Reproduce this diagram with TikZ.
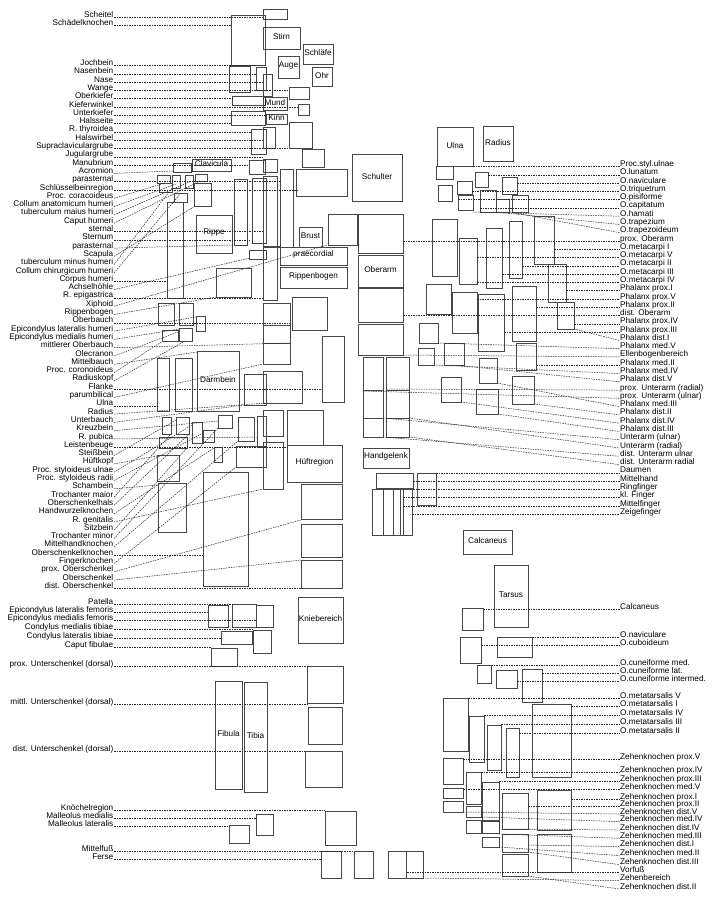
\documentclass[tikz,border=0pt]{standalone}
\usepackage{fontspec}
\setmainfont{Liberation Sans}
\tikzset{
  box/.style={draw=black!72, line width=0.75pt},
  lead/.style={draw=black!85, line width=0.5pt, dash pattern=on 1.5pt off 1pt},
  lab/.style={font=\fontsize{8.2}{9}\selectfont, inner sep=0.5pt, text=black},
  btxt/.style={font=\fontsize{8.2}{9}\selectfont, inner sep=0pt, text=black, yshift=1.2pt}
}
\newcommand{\Bx}[4]{\draw[box] (#1,#2) rectangle (#3,#4);}
\newcommand{\BxT}[6]{\draw[box] (#1,#2) rectangle (#3,#4); \node[btxt] (#6) at ({(#1+#3)/2},{(#2+#4)/2}) {#5};}
\newcommand{\LLab}[5]{\node[lab,anchor=base east] (#1) at (114,#2) {#3}; \coordinate (#1e) at (#4,#5); \draw[lead] (#1.base east) -- (#1e);}
\newcommand{\RLab}[5]{\node[lab,anchor=base west] (#1) at (619.5,#2) {#3}; \coordinate (#1s) at (#4,#5); \draw[lead] (#1s) -- (#1.base west);}
\begin{document}
\begin{tikzpicture}[x=1pt,y=-1pt]
\useasboundingbox (0,0) rectangle (713,900);
\fill[white] (0,0) rectangle (713,900);
% ---------- head ----------
\Bx{263}{9}{287}{19}
\Bx{231}{15}{265}{65}
\BxT{263}{27}{300}{49}{Stirn}{stirn}
\BxT{303}{44}{333}{64}{Schläfe}{schlaefe}
\BxT{278}{56}{299}{78}{Auge}{auge}
\BxT{312}{67}{332}{86}{Ohr}{ohr}
\Bx{229}{66}{250}{92}
\Bx{256}{67}{266}{90}
\Bx{263}{74}{272}{96}
\Bx{289}{87}{309}{99}
\Bx{232}{96}{265}{105}
\BxT{263}{97}{287}{110}{Mund}{mund}
\Bx{298}{104}{309}{115}
\Bx{231}{111}{265}{125}
\BxT{266}{114}{287}{124}{Kinn}{kinn}
\Bx{251}{129}{266}{154}
\Bx{263}{127}{275}{148}
\Bx{289}{122}{312}{148}
\Bx{302}{149}{324}{167}
% ---------- torso ----------
\Bx{173}{163}{191}{172}
\BxT{192}{159}{231}{171}{Clavicula}{clavicula}
\Bx{249}{160}{265}{174}
\Bx{263}{159}{277}{172}
\Bx{157}{175}{170}{183}
\Bx{172}{175}{180}{188}
\Bx{185}{175}{193}{188}
\Bx{195}{174}{207}{181}
\Bx{159}{183}{172}{192}
\Bx{194}{183}{211}{206}
\Bx{174}{193}{187}{202}
\Bx{167}{202}{183}{298}
\BxT{196}{215}{232}{253}{Rippe}{rippe}
\Bx{234}{179}{247}{245}
\Bx{252}{178}{266}{243}
\Bx{263}{176}{277}{300}
\Bx{280}{169}{293}{247}
\Bx{296}{169}{347}{196}
\BxT{352}{154}{402}{201}{Schulter}{schulter}
\BxT{299}{227}{322}{247}{Brust}{brust}
\Bx{328}{214}{357}{245}
\Bx{358}{214}{403}{253}
\BxT{280}{247}{347}{265}{praecordial}{praecordial}
\BxT{280}{267}{347}{288}{Rippenbogen}{rippenbogenbox}
\BxT{358}{255}{403}{287}{Oberarm}{oberarm}
\Bx{358}{288}{403}{322}
\Bx{358}{324}{403}{355}
\Bx{249}{250}{266}{259}
\Bx{216}{268}{251}{297}
\draw[box, line width=1.1pt] (263,247) -- (280,247);
\Bx{158}{303}{174}{325}
\Bx{179}{303}{193}{325}
\Bx{196}{316}{205}{331}
\Bx{162}{330}{178}{341}
\Bx{179}{328}{192}{341}
\Bx{263}{303}{290}{325}
\Bx{263}{325}{290}{343}
\Bx{263}{343}{290}{364}
\Bx{292}{297}{327}{330}
\Bx{322}{336}{344}{402}
\Bx{157}{358}{169}{411}
\Bx{175}{358}{192}{411}
\BxT{197}{351}{239}{411}{Darmbein}{darmbein}
\Bx{244}{374}{266}{405}
\Bx{263}{371}{302}{403}
\Bx{162}{417}{171}{434}
\Bx{176}{417}{189}{434}
\Bx{192}{422}{202}{443}
\Bx{203}{430}{214}{442}
\Bx{218}{415}{232}{428}
\Bx{238}{417}{254}{441}
\Bx{257}{416}{266}{447}
\Bx{263}{410}{283}{436}
\Bx{287}{410}{323}{445}
\Bx{159}{437}{187}{448}
\Bx{236}{446}{266}{467}
\Bx{214}{447}{222}{462}
\Bx{263}{442}{283}{489}
\BxT{287}{445}{342}{482}{Hüftregion}{hueftregion}
\Bx{157}{455}{179}{481}
\Bx{158}{483}{186}{532}
\Bx{203}{472}{248}{586}
\Bx{301}{484}{342}{519}
\Bx{301}{524}{342}{557}
\Bx{301}{560}{342}{588}
% ---------- leg ----------
\BxT{298}{597}{343}{643}{Kniebereich}{kniebereich}
\Bx{208}{605}{228}{627}
\Bx{232}{604}{256}{627}
\Bx{256}{605}{273}{627}
\Bx{221}{631}{252}{644}
\Bx{253}{630}{271}{653}
\Bx{211}{648}{237}{666}
\Bx{307}{666}{343}{703}
\Bx{308}{707}{342}{744}
\BxT{215}{681}{242}{789}{Fibula}{fibula}
\BxT{244}{682}{267}{792}{Tibia}{tibia}
\Bx{305}{751}{342}{787}
\Bx{325}{811}{356}{845}
\Bx{256}{814}{273}{835}
\Bx{229}{825}{249}{843}
\Bx{321}{851}{341}{878}
\Bx{354}{851}{373}{878}
\Bx{388}{851}{406}{878}
\Bx{406}{851}{423}{878}
% ---------- forearm / hand ----------
\Bx{363}{357}{383}{390}
\Bx{386}{357}{409}{390}
\Bx{363}{390}{383}{418}
\Bx{386}{390}{409}{418}
\Bx{363}{418}{383}{437}
\Bx{386}{418}{409}{437}
\BxT{363}{448}{409}{468}{Handgelenk}{handgelenk}
\Bx{376}{473}{413}{488}
\Bx{417}{473}{436}{505}
\Bx{372}{489}{383}{535}
\Bx{383}{489}{393}{535}
\Bx{393}{489}{403}{535}
\Bx{400}{489}{412}{535}
% ---------- wrist / hand bones ----------
\BxT{437}{127}{473}{166}{Ulna}{ulnabox}
\BxT{483}{126}{513}{161}{Radius}{radiusbox}
\Bx{436}{166}{453}{179}
\Bx{475}{172}{488}{187}
\Bx{502}{177}{517}{194}
\Bx{438}{185}{452}{201}
\Bx{457}{181}{472}{194}
\Bx{458}{195}{473}{210}
\Bx{480}{190}{496}{212}
\Bx{496}{199}{509}{212}
\Bx{512}{195}{528}{212}
\Bx{432}{219}{457}{276}
\Bx{459}{238}{477}{284}
\Bx{486}{228}{502}{288}
\Bx{509}{221}{522}{278}
\Bx{534}{216}{554}{264}
\Bx{548}{264}{566}{302}
\Bx{557}{302}{574}{329}
\Bx{426}{284}{451}{314}
\Bx{452}{292}{477}{333}
\Bx{478}{294}{504}{351}
\Bx{512}{286}{536}{341}
\Bx{419}{323}{438}{343}
\Bx{444}{343}{464}{365}
\Bx{418}{348}{434}{365}
\Bx{479}{358}{497}{383}
\Bx{516}{343}{536}{370}
\Bx{441}{377}{461}{402}
\Bx{476}{389}{498}{414}
\Bx{512}{376}{534}{404}
% ---------- foot ----------
\BxT{463}{530}{512}{554}{Calcaneus}{calcbox}
\BxT{494}{565}{528}{627}{Tarsus}{tarsus}
\Bx{462}{608}{483}{630}
\Bx{460}{637}{481}{663}
\Bx{497}{637}{532}{657}
\Bx{477}{665}{491}{683}
\Bx{496}{670}{517}{688}
\Bx{522}{669}{542}{702}
\Bx{443}{698}{468}{751}
\Bx{469}{716}{484}{762}
\Bx{487}{725}{501}{770}
\Bx{506}{728}{519}{777}
\Bx{532}{704}{571}{777}
\Bx{443}{758}{463}{784}
\Bx{466}{772}{481}{804}
\Bx{443}{788}{463}{798}
\Bx{443}{801}{463}{812}
\Bx{482}{782}{499}{820}
\Bx{466}{806}{481}{817}
\Bx{502}{793}{528}{829}
\Bx{537}{790}{571}{830}
\Bx{466}{820}{481}{833}
\Bx{482}{821}{499}{833}
\Bx{482}{837}{499}{847}
\Bx{502}{834}{528}{852}
\Bx{537}{834}{571}{872}
\Bx{502}{854}{528}{876}
% ---------- left labels ----------
\LLab{scheitel}{17}{Scheitel}{263}{17}
\LLab{schaedel}{25.5}{Schädelknochen}{231}{25.5}
\LLab{jochbein}{65.5}{Jochbein}{265}{65.5}
\LLab{nasenbein}{73.8}{Nasenbein}{256}{73.8}
\LLab{nase}{82.1}{Nase}{263}{82.1}
\LLab{wange}{90.4}{Wange}{289}{90.4}
\LLab{oberkiefer}{98.7}{Oberkiefer}{232}{98.7}
\LLab{kieferw}{107}{Kieferwinkel}{298}{107}
\LLab{unterk}{115.3}{Unterkiefer}{266}{115.3}
\LLab{halsseite}{123.6}{Halsseite}{231}{123.6}
\LLab{rthyr}{131.9}{R. thyroidea}{251}{131.9}
\LLab{halsw}{140.2}{Halswirbel}{263}{140.2}
\LLab{supracl}{148.5}{Supraclaviculargrube}{289}{148.5}
\LLab{jugul}{156.8}{Jugulargrube}{263}{156.8}
\LLab{manubr}{165.1}{Manubrium}{249}{165.1}
\LLab{acrom}{173.4}{Acromion}{173}{171}
\LLab{paraA}{181.7}{parasternal}{281}{181.7}
\LLab{schlreg}{190}{Schlüsselbeinregion}{297}{190}
\LLab{coracoid}{198.3}{Proc. coracoideus}{165}{183}
\LLab{collanat}{206.6}{Collum anatomicum humeri}{176}{184}
\LLab{tubmai}{214.9}{tuberculum maius humeri}{189}{182}
\LLab{caput}{223.2}{Caput humeri}{200}{181}
\LLab{sternal}{231.5}{sternal}{262}{231.5}
\LLab{sternum}{239.8}{Sternum}{250}{239.8}
\LLab{paraB}{248.1}{parasternal}{233}{245}
\LLab{scapula}{256.4}{Scapula}{195}{206}
\LLab{tubmin}{264.7}{tuberculum minus humeri}{172}{188}
\LLab{collchir}{273}{Collum chirurgicum humeri}{181}{193}
\LLab{corpus}{281.3}{Corpus humeri}{167}{281.3}
\LLab{achsel}{289.6}{Achselhöhle}{250}{258}
\LLab{repig}{297.9}{R. epigastrica}{263}{297.9}
\LLab{xiphoid}{306.2}{Xiphoid}{327}{245}
\LLab{rippenb}{314.5}{Rippenbogen}{216}{297}
\LLab{oberbauch}{322.8}{Oberbauch}{290}{322.8}
\LLab{epilat}{331.1}{Epicondylus lateralis humeri}{196}{317}
\LLab{epimed}{339.4}{Epicondylus medialis humeri}{180}{329}
\LLab{mittob}{347.7}{mittlerer Oberbauch}{290}{343}
\LLab{olecr}{356}{Olecranon}{178}{332}
\LLab{mittelb}{364.3}{Mittelbauch}{197}{352}
\LLab{coron}{372.6}{Proc. coronoideus}{163}{341}
\LLab{radkopf}{380.9}{Radiuskopf}{185}{341}
\LLab{flanke}{389.2}{Flanke}{322}{389.2}
\LLab{parumb}{397.5}{parumbilical}{263}{364}
\LLab{ulna}{405.8}{Ulna}{157}{405.8}
\LLab{radius}{414.1}{Radius}{266}{403}
\LLab{unterb}{422.4}{Unterbauch}{244}{405}
\LLab{kreuzb}{430.7}{Kreuzbein}{218}{421}
\LLab{rpubica}{439}{R. pubica}{257}{437}
\LLab{leisten}{447.3}{Leistenbeuge}{287}{447.3}
\LLab{steiss}{455.6}{Steißbein}{176}{420}
\LLab{hueftk}{463.9}{Hüftkopf}{157}{456}
\LLab{stylu}{472.2}{Proc. styloideus ulnae}{192}{425}
\LLab{stylr}{480.5}{Proc. styloideus radii}{203}{433}
\LLab{schamb}{488.8}{Schambein}{158}{485}
\LLab{trocmai}{497.1}{Trochanter maior}{171}{434}
\LLab{oshals}{505.4}{Oberschenkelhals}{189}{434}
\LLab{handwk}{513.7}{Handwurzelknochen}{214}{448}
\LLab{rgenit}{522}{R. genitalis}{263}{489}
\LLab{sitzb}{530.3}{Sitzbein}{187}{448}
\LLab{trocmin}{538.6}{Trochanter minor}{218}{428}
\LLab{mhk}{546.9}{Mittelhandknochen}{238}{441}
\LLab{osk}{555.2}{Oberschenkelknochen}{203}{555.2}
\LLab{fingerk}{563.5}{Fingerknochen}{236}{467}
\LLab{proxos}{571.8}{prox. Oberschenkel}{301}{520}
\LLab{os}{580.1}{Oberschenkel}{301}{560}
\LLab{distos}{588.4}{dist. Oberschenkel}{301}{588.4}
\LLab{patella}{604}{Patella}{232}{604}
\LLab{epilatf}{612}{Epicondylus lateralis femoris}{208}{612}
\LLab{epimedf}{620.5}{Epicondylus medialis femoris}{256}{620.5}
\LLab{condmed}{629.5}{Condylus medialis tibiae}{253}{629.5}
\LLab{condlat}{638}{Condylus lateralis tibiae}{221}{638}
\LLab{capfib}{647.5}{Caput fibulae}{211}{647.5}
\LLab{proxus}{666}{prox. Unterschenkel (dorsal)}{307}{666}
\LLab{mittlus}{704}{mittl. Unterschenkel (dorsal)}{308}{704}
\LLab{distus}{751}{dist. Unterschenkel (dorsal)}{305}{751}
\LLab{knoechel}{810.5}{Knöchelregion}{325}{810.5}
\LLab{mallmed}{818.5}{Malleolus medialis}{256}{818.5}
\LLab{malllat}{826.5}{Malleolus lateralis}{229}{826.5}
\LLab{mittelfuss}{851}{Mittelfuß}{354}{851}
\LLab{ferse}{859.5}{Ferse}{321}{859.5}
% ---------- right labels: arm & hand ----------
\RLab{r0}{166.5}{Proc.styl.ulnae}{473}{166.5}
\RLab{r1}{174.8}{O.lunatum}{488}{174.8}
\RLab{r2}{183.1}{O.naviculare}{517}{183.1}
\RLab{r3}{191.3}{O.triquetrum}{472}{191.3}
\RLab{r4}{199.6}{O.pisiforme}{458}{199.6}
\RLab{r5}{207.9}{O.capitatum}{480}{207.9}
\RLab{r6}{216.2}{O.hamati}{473}{212}
\RLab{r7}{224.5}{O.trapezium}{496}{212}
\RLab{r8}{232.7}{O.trapezoideum}{510}{212}
\RLab{r9}{241.0}{prox. Oberarm}{403}{241}
\RLab{r10}{249.3}{O.metacarpi I}{554}{249.3}
\RLab{r11}{257.6}{O.metacarpi V}{477}{257.6}
\RLab{r12}{265.9}{O.metacarpi II}{522}{265.9}
\RLab{r13}{274.1}{O.metacarpi III}{502}{274.1}
\RLab{r14}{282.4}{O.metacarpi IV}{477}{282.4}
\RLab{r15}{290.7}{Phalanx prox.I}{566}{290.7}
\RLab{r16}{299.0}{Phalanx prox.V}{477}{299}
\RLab{r17}{307.3}{Phalanx prox.II}{536}{307.3}
\RLab{r18}{315.5}{dist. Oberarm}{403}{315.5}
\RLab{r19}{323.8}{Phalanx prox.IV}{574}{323.8}
\RLab{r20}{332.1}{Phalanx prox.III}{504}{332.1}
\RLab{r21}{340.4}{Phalanx dist.I}{574}{329}
\RLab{r22}{348.7}{Phalanx med.V}{438}{343}
\RLab{r23}{356.9}{Ellenbogenbereich}{403}{355}
\RLab{r24}{365.2}{Phalanx med.II}{536}{365.2}
\RLab{r25}{373.5}{Phalanx med.IV}{434}{365}
\RLab{r26}{381.8}{Phalanx dist.V}{464}{366}
\RLab{r27}{390.1}{prox. Unterarm (radial)}{386}{389}
\RLab{r28}{398.3}{prox. Unterarm (ulnar)}{363}{391}
\RLab{r29}{406.6}{Phalanx med.III}{497}{383}
\RLab{r30}{414.9}{Phalanx dist.II}{534}{404}
\RLab{r31}{423.2}{Phalanx dist.IV}{461}{402}
\RLab{r32}{431.5}{Phalanx dist.III}{498}{414}
\RLab{r33}{439.7}{Unterarm (ulnar)}{383}{418}
\RLab{r34}{448.0}{Unterarm (radial)}{409}{418}
\RLab{r35}{456.3}{dist. Unterarm ulnar}{383}{437}
\RLab{r36}{464.6}{dist. Unterarm radial}{409}{437}
\RLab{r37}{472.9}{Daumen}{436}{472.9}
\RLab{r38}{481.1}{Mittelhand}{413}{481.1}
\RLab{r39}{489.4}{Ringfinger}{413}{489.4}
\RLab{r40}{497.7}{kl. Finger}{403}{497.7}
\RLab{r41}{506.0}{Mittelfinger}{403}{506}
\RLab{r42}{514.3}{Zeigefinger}{412}{514.3}
% ---------- right labels: foot ----------
\RLab{f0}{609}{Calcaneus}{483}{609}
\RLab{f1}{637.3}{O.naviculare}{532}{637.3}
\RLab{f2}{645}{O.cuboideum}{481}{645}
\RLab{f3}{665.6}{O.cuneiforme med.}{491}{665.6}
\RLab{f4}{673}{O.cuneiforme lat.}{542}{673}
\RLab{f5}{681.3}{O.cuneiforme intermed.}{517}{681.3}
\RLab{f6}{698}{O.metatarsalis V}{468}{698}
\RLab{f7}{706.6}{O.metatarsalis I}{571}{706.6}
\RLab{f8}{715.6}{O.metatarsalis IV}{484}{715.6}
\RLab{f9}{724.6}{O.metatarsalis III}{501}{724.6}
\RLab{f10}{733.3}{O.metatarsalis II}{519}{733.3}
\RLab{f11}{759}{Zehenknochen prox.V}{463}{759}
\RLab{f12}{772.3}{Zehenknochen prox.IV}{481}{772.3}
\RLab{f13}{781.3}{Zehenknochen prox.III}{499}{781.3}
\RLab{f14}{789.6}{Zehenknochen med.V}{463}{789.6}
\RLab{f15}{799}{Zehenknochen prox.I}{571}{799}
\RLab{f16}{806.6}{Zehenknochen prox.II}{528}{806.6}
\RLab{f17}{814}{Zehenknochen dist.V}{463}{812}
\RLab{f18}{821.6}{Zehenknochen med.IV}{481}{817}
\RLab{f19}{830}{Zehenknochen dist.IV}{499}{829}
\RLab{f20}{838.3}{Zehenknochen med.III}{499}{834}
\RLab{f21}{846.6}{Zehenknochen dist.I}{528}{845}
\RLab{f22}{855.6}{Zehenknochen med.II}{499}{847}
\RLab{f23}{864.6}{Zehenknochen dist.III}{528}{852}
\RLab{f24}{872.3}{Vorfuß}{407}{872.3}
\RLab{f25}{880.6}{Zehenbereich}{425}{878}
\RLab{f26}{889}{Zehenknochen dist.II}{528}{876}
\end{tikzpicture}
\end{document}
